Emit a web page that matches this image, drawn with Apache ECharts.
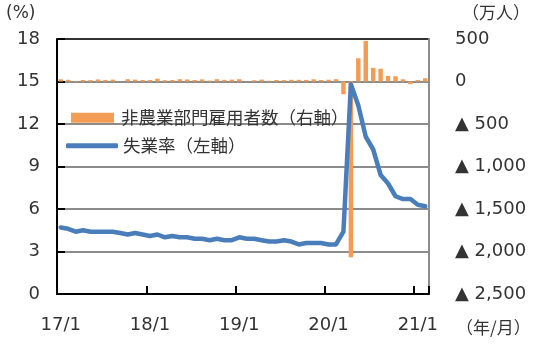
<!DOCTYPE html>
<html>
<head>
<meta charset="utf-8">
<script src="https://cdn.jsdelivr.net/npm/echarts@6/dist/echarts.min.js"></script>
<style>html,body{margin:0;padding:0;background:#fff}#c{width:540px;height:347px}</style>
</head>
<body>
<div id="c"></div>
<script>
// Categories: monthly 2017/1 .. 2021/2
const months = [
  '17/1','17/2','17/3','17/4','17/5','17/6','17/7','17/8','17/9','17/10','17/11','17/12',
  '18/1','18/2','18/3','18/4','18/5','18/6','18/7','18/8','18/9','18/10','18/11','18/12',
  '19/1','19/2','19/3','19/4','19/5','19/6','19/7','19/8','19/9','19/10','19/11','19/12',
  '20/1','20/2','20/3','20/4','20/5','20/6','20/7','20/8','20/9','20/10','20/11','20/12',
  '21/1','21/2'
];
// Unemployment rate (%), left axis
const unemploymentRate = [
  4.7, 4.6, 4.4, 4.5, 4.4, 4.4, 4.4, 4.4, 4.3, 4.2, 4.3, 4.2,
  4.1, 4.2, 4.0, 4.1, 4.0, 4.0, 3.9, 3.9, 3.8, 3.9, 3.8, 3.8,
  4.0, 3.9, 3.9, 3.8, 3.7, 3.7, 3.8, 3.7, 3.5, 3.6, 3.6, 3.6,
  3.5, 3.5, 4.4, 14.8, 13.3, 11.1, 10.2, 8.4, 7.8, 6.9, 6.7, 6.7,
  6.3, 6.2
];
// Nonfarm payroll change (10k persons), right axis
const payrolls = [
  26, 20, 7, 18, 16, 24, 19, 22, 2, 27, 22, 18,
  17, 33, 15, 18, 27, 24, 17, 25, 10, 27, 20, 22,
  27, 1, 15, 22, 9, 18, 17, 20, 20, 19, 26, 18,
  21, 27, -150, -2068, 273, 478, 160, 150, 66, 62, 26, -31,
  17, 38
];
const leftTicks = [0, 3, 6, 9, 12, 15, 18];
const rightTicks = [-2500, -2000, -1500, -1000, -500, 0, 500];
const barName = '非農業部門雇用者数（右軸）';
const lineName = '失業率（左軸）';

const NUM_FONT = 'DejaVu Sans';
const CJK_FONT = '"Noto Sans CJK JP", "Noto Sans", sans-serif';
const TXT = '#333';

const chart = echarts.init(document.getElementById('c'), null, {renderer: 'canvas'});
const yearTick = (i) => i % 12 === 0;

chart.setOption({
  animation: false,
  backgroundColor: '#fff',
  grid: {left: 57, right: 111, top: 39, bottom: 53, containLabel: false},
  legend: [
    {
      data: [{name: barName, icon: 'rect'}],
      left: 66, top: 104, itemWidth: 43, itemHeight: 10, itemGap: 0,
      textStyle: {fontFamily: CJK_FONT, fontSize: 17.5, color: TXT, padding: [0, 0, 0, 2]},
      selectedMode: false
    },
    {
      data: [{name: lineName, icon: 'roundRect'}],
      left: 61, top: 132, itemWidth: 52, itemHeight: 5, itemGap: 0,
      itemStyle: {borderWidth: 0},
      textStyle: {fontFamily: CJK_FONT, fontSize: 17.5, color: TXT, padding: [0, 0, 0, 0]},
      selectedMode: false
    }
  ],
  xAxis: {
    type: 'category',
    data: months,
    boundaryGap: true,
    axisLine: {show: true, onZero: false, lineStyle: {color: '#000', width: 2}},
    axisTick: {show: true, inside: true, length: 8, interval: (i) => yearTick(i), lineStyle: {color: '#000', width: 2}},
    axisLabel: {
      interval: (i) => yearTick(i),
      fontFamily: NUM_FONT, fontSize: 18, color: TXT, margin: 22
    },
    splitLine: {show: false}
  },
  yAxis: [
    {
      type: 'value', min: 0, max: 18, interval: 3, position: 'left',
      axisLine: {show: true, lineStyle: {color: '#000', width: 2}},
      axisTick: {show: true, inside: true, length: 8, lineStyle: {color: '#000', width: 2}},
      axisLabel: {fontFamily: NUM_FONT, fontSize: 18, color: TXT, margin: 17},
      splitLine: {show: true, lineStyle: {color: ['#8c8c8c', '#8c8c8c', '#8c8c8c', '#8c8c8c', '#8c8c8c', '#8c8c8c', '#333'], width: 2}}
    },
    {
      type: 'value', min: -2500, max: 500, interval: 500, position: 'right',
      axisLine: {show: true, lineStyle: {color: '#8c8c8c', width: 2}},
      axisTick: {show: false},
      axisLabel: {
        fontFamily: NUM_FONT, fontSize: 18, color: TXT, margin: 26, align: 'left',
        formatter: (v) => v < 0 ? '▲ ' + Math.abs(v).toLocaleString('en-US') : String(v)
      },
      splitLine: {show: false}
    }
  ],
  graphic: [
    {type: 'text', left: 6, top: 5, style: {text: '(%)', fontFamily: NUM_FONT, fontSize: 17, fill: TXT}},
    {type: 'text', left: 462, top: 4, style: {text: '（万人）', fontFamily: CJK_FONT, fontSize: 17, fill: TXT}},
    {type: 'text', left: 456, top: 319, style: {text: '（年/月）', fontFamily: CJK_FONT, fontSize: 17, fill: TXT}}
  ],
  series: [
    {
      name: barName, type: 'bar', yAxisIndex: 1, data: payrolls,
      barWidth: '60%',
      itemStyle: {color: '#f39c55'},
      z: 2
    },
    {
      name: lineName, type: 'line', yAxisIndex: 0, data: unemploymentRate,
      symbol: 'none', smooth: false,
      lineStyle: {color: '#4a7ebb', width: 4.5, cap: 'round', join: 'round'},
      itemStyle: {color: '#4a7ebb'},
      z: 3
    }
  ]
});
</script>
</body>
</html>
